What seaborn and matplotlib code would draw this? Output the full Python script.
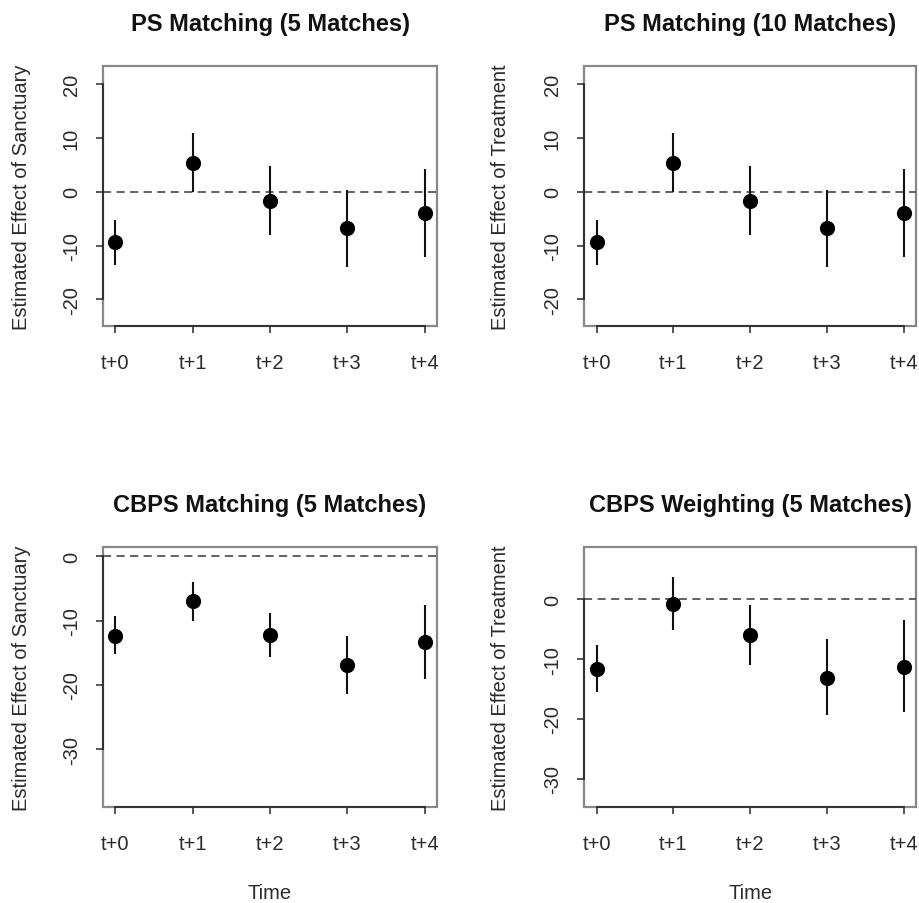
import numpy as np
import pandas as pd
import seaborn as sns
import matplotlib.pyplot as plt
from matplotlib.patches import Rectangle

# values
periods = ['t+0', 't+1', 't+2', 't+3', 't+4']

ps5_est = [-9.4, 5.4, -1.8, -6.7, -3.9]
ps5_lo = [-13.6, 0.0, -8.0, -14.0, -12.1]
ps5_hi = [-5.2, 11.0, 4.7, 0.4, 4.3]

ps10_est = [-9.4, 5.4, -1.8, -6.7, -3.9]
ps10_lo = [-13.6, 0.0, -8.0, -14.0, -12.1]
ps10_hi = [-5.2, 11.0, 4.7, 0.4, 4.3]

cbps_m_est = [-12.4, -7.0, -12.2, -16.9, -13.3]
cbps_m_lo = [-15.2, -10.1, -15.7, -21.4, -19.0]
cbps_m_hi = [-9.3, -3.9, -8.8, -12.4, -7.5]

cbps_w_est = [-11.6, -0.7, -6.0, -13.1, -11.3]
cbps_w_lo = [-15.5, -5.2, -11.0, -19.3, -18.9]
cbps_w_hi = [-7.7, 3.8, -0.9, -6.6, -3.5]

titles = ['PS Matching (5 Matches)', 'PS Matching (10 Matches)',
          'CBPS Matching (5 Matches)', 'CBPS Weighting (5 Matches)']
ylabels = ['Estimated Effect of Sanctuary', 'Estimated Effect of Treatment',
           'Estimated Effect of Sanctuary', 'Estimated Effect of Treatment']
yticks = [[-20, -10, 0, 10, 20], [-20, -10, 0, 10, 20],
          [-30, -20, -10, 0], [-30, -20, -10, 0]]
ylims = [(-25.0, 23.4), (-25.0, 23.4), (-39.0, 1.5), (-34.8, 8.8)]

sns.set_style('white')
plt.rcParams['font.family'] = ['Liberation Sans', 'DejaVu Sans']

txt = '#2a2a2a'
fig = plt.figure(figsize=(9.2, 9.04), dpi=100)
boxes = [[0.112, 0.638, 0.363, 0.288], [0.635, 0.638, 0.361, 0.288],
         [0.112, 0.106, 0.363, 0.288], [0.635, 0.106, 0.361, 0.288]]

panels = [(ps5_est, ps5_lo, ps5_hi), (ps10_est, ps10_lo, ps10_hi),
          (cbps_m_est, cbps_m_lo, cbps_m_hi), (cbps_w_est, cbps_w_lo, cbps_w_hi)]

for i, (est, lo, hi) in enumerate(panels):
    ax = fig.add_axes(boxes[i])
    df = pd.DataFrame({'x': np.arange(len(periods)), 'est': est, 'lo': lo, 'hi': hi})

    ax.axhline(0, color='#555555', lw=1.3, ls=(0, (4.5, 3)), zorder=1)
    ax.vlines(df['x'], df['lo'], df['hi'], color='#111111', lw=1.5, zorder=2)
    sns.scatterplot(data=df, x='x', y='est', ax=ax, color='black', s=120,
                    edgecolor='black', linewidth=0, zorder=3, legend=False)

    ax.set_xlim(-0.16, 4.16)
    ax.set_ylim(*ylims[i])
    ax.set_xticks(df['x'])
    ax.set_xticklabels(periods)
    ax.set_yticks(yticks[i])
    ax.set_yticklabels([str(t) for t in yticks[i]], rotation=90, va='center')
    ax.tick_params(axis='both', direction='out', length=5, width=1.1, color=txt,
                   labelsize=14.5, labelcolor=txt, bottom=True, left=True)
    ax.tick_params(axis='x', pad=14)
    ax.tick_params(axis='y', pad=11)

    # R style: gray box, dark axis lines spanning the ticks
    for s in ['top', 'right']:
        ax.spines[s].set_visible(False)
    ax.spines['left'].set_bounds(min(yticks[i]), max(yticks[i]))
    ax.spines['bottom'].set_bounds(0, len(periods) - 1)
    ax.spines['left'].set_color(txt)
    ax.spines['bottom'].set_color(txt)
    ax.spines['left'].set_linewidth(1.3)
    ax.spines['bottom'].set_linewidth(1.3)
    ax.add_patch(Rectangle((0, 0), 1, 1, transform=ax.transAxes, fill=False,
                           edgecolor='#888888', lw=1.6, zorder=0, clip_on=False))

    ax.set_title(titles[i], fontsize=17, fontweight='bold', color='#111111', pad=26)
    ax.set_ylabel(ylabels[i], fontsize=14.5, color=txt)
    ax.yaxis.label.set_va('center')
    ax.yaxis.set_label_coords(-0.245 if i % 2 == 0 else -0.253, 0.5)
    if i >= 2:
        ax.set_xlabel('Time', fontsize=14.5, color=txt)
        ax.xaxis.label.set_va('center')
        ax.xaxis.set_label_coords(0.5, -0.326)
    else:
        ax.set_xlabel('')

fig.savefig('out.png', dpi=100)
